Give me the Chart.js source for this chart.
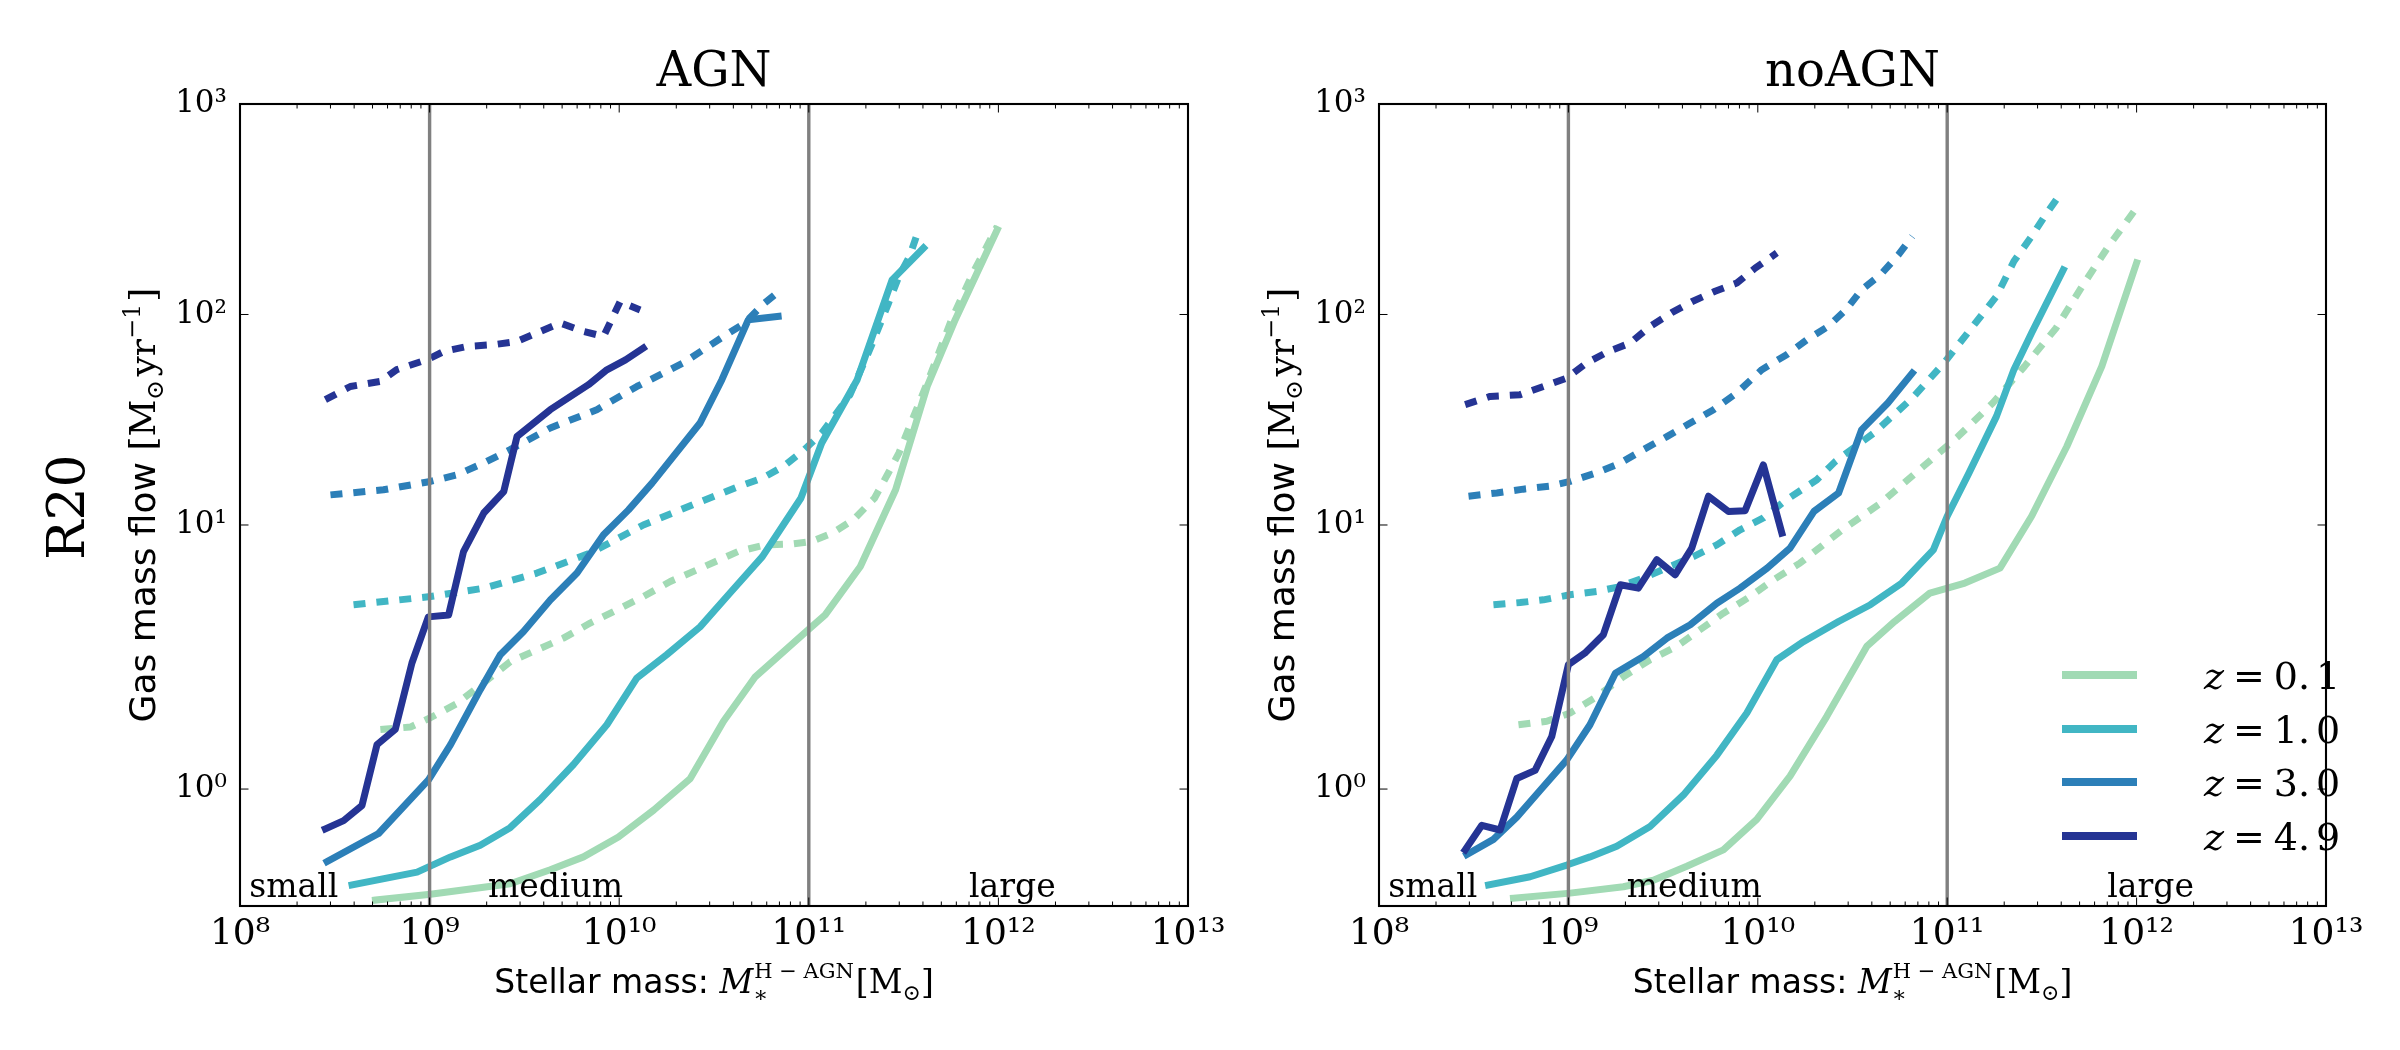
<!DOCTYPE html>
<html>
<head>
<meta charset="utf-8">
<script src="https://cdn.jsdelivr.net/npm/chart.js@4.4.0/dist/chart.umd.min.js"></script>
<style>
html, body { margin: 0; padding: 0; background: #ffffff; }
#wrap { position: relative; width: 2400px; height: 1050px; overflow: hidden; background: #ffffff; }
#cAGN { position: absolute; left: 0; top: 0; width: 1300px; height: 1050px; }
#cNo { position: absolute; left: 1200px; top: 0; width: 1200px; height: 1050px; }
</style>
</head>
<body>
<div id="wrap">
  <canvas id="cAGN" width="1300" height="1050"></canvas>
  <canvas id="cNo" width="1200" height="1050"></canvas>
</div>
<script>
// ---------------- data ----------------
const PANEL_TITLES = ['AGN', 'noAGN'];
const ROW_LABEL = 'R20';
const Z_LABELS = ['0.1', '1.0', '3.0', '4.9'];
const COLORS = ['#a1dab4', '#41b6c4', '#2c7fb8', '#253494'];
const X_TICKS = [1e8, 1e9, 1e10, 1e11, 1e12, 1e13];
const Y_TICKS = [1, 10, 100, 1000];
const VLINE_X = [1e9, 1e11];
const REGION_LABELS = ['small', 'medium', 'large'];
const REGION_X = [1.12e8, 2.03e9, 7.0e11];
const REGION_Y = 0.077;

// AGN panel
const AGN_z01_solid_x = [5.18e8, 1.01e9, 2.66e9, 4.33e9, 6.48e9, 9.91e9, 1.52e10, 2.37e10, 3.55e10, 5.22e10, 9.48e10, 1.22e11, 1.87e11, 2.87e11, 4.21e11, 5.92e11, 9.86e11];
const AGN_z01_solid_y = [0.051, 0.10, 0.19, 0.31, 0.42, 0.59, 0.82, 1.09, 1.58, 1.96, 3.06, 3.74, 6.35, 14.7, 45.5, 94.5, 253];
const AGN_z01_dash_x = [5.50e8, 7.91e8, 1.01e9, 1.39e9, 1.93e9, 2.66e9, 3.68e9, 5.08e9, 7.03e9, 9.73e9, 1.34e10, 1.86e10, 2.57e10, 4.23e10, 5.93e10, 8.0e10, 1.03e11, 1.33e11, 1.72e11, 2.22e11, 2.63e11, 2.99e11, 3.40e11, 4.21e11, 5.66e11, 7.33e11, 9.86e11];
const AGN_z01_dash_y = [1.51, 1.53, 1.61, 1.73, 1.91, 2.24, 2.55, 2.90, 3.42, 3.95, 4.57, 5.39, 6.12, 7.48, 8.05, 8.11, 8.35, 9.15, 10.6, 13.4, 17.7, 22.0, 29.4, 47.2, 94.5, 157, 262];
const AGN_z10_solid_x = [3.90e8, 8.59e8, 1.29e9, 1.85e9, 2.66e9, 3.83e9, 5.74e9, 8.61e9, 1.24e10, 1.78e10, 2.67e10, 3.84e10, 5.69e10, 9.08e10, 1.17e11, 1.80e11, 2.75e11, 4.03e11];
const AGN_z10_solid_y = [0.18, 0.29, 0.42, 0.52, 0.67, 0.91, 1.21, 1.55, 1.95, 2.42, 3.28, 4.75, 7.08, 13.4, 24.5, 49.0, 146, 207];
const AGN_z10_dash_x = [3.97e8, 1.01e9, 1.93e9, 3.68e9, 7.03e9, 1.34e10, 2.57e10, 4.23e10, 5.69e10, 7.35e10, 9.48e10, 1.17e11, 1.65e11, 2.13e11, 2.63e11, 2.99e11, 3.40e11, 3.78e11];
const AGN_z10_dash_y = [4.18, 4.57, 5.01, 5.91, 7.35, 10.0, 12.7, 15.2, 16.7, 19.0, 22.8, 27.3, 41.6, 70.5, 113, 152, 189, 250];
const AGN_z30_solid_x = [2.88e8, 5.38e8, 9.89e8, 1.29e9, 1.85e9, 2.36e9, 3.13e9, 4.33e9, 5.99e9, 8.27e9, 1.12e10, 1.49e10, 2.67e10, 3.48e10, 4.80e10, 6.89e10];
const AGN_z30_solid_y = [0.38, 0.62, 1.08, 1.38, 1.85, 2.42, 3.12, 4.40, 5.91, 8.98, 11.8, 15.8, 30.5, 49.0, 94.5, 97.9];
const AGN_z30_dash_x = [3.0e8, 5.71e8, 1.01e9, 1.39e9, 1.93e9, 2.66e9, 4.33e9, 7.62e9, 1.24e10, 2.18e10, 3.55e10, 4.60e10, 5.69e10, 6.75e10];
const AGN_z30_dash_y = [13.9, 14.7, 16.1, 17.3, 19.7, 22.8, 28.9, 35.3, 45.5, 58.9, 78.7, 91.1, 111, 126];
const AGN_z49_solid_x = [2.82e8, 3.52e8, 4.40e8, 5.28e8, 6.59e8, 8.07e8, 9.85e8, 1.26e9, 1.51e9, 1.93e9, 2.46e9, 2.89e9, 4.33e9, 6.89e9, 8.61e9, 1.08e10, 1.34e10];
const AGN_z49_solid_y = [0.66, 0.73, 0.86, 1.38, 1.51, 2.21, 3.66, 3.74, 7.48, 11.4, 14.4, 26.3, 35.3, 46.4, 54.6, 60.9, 69.3];
const AGN_z49_dash_x = [2.82e8, 3.82e8, 5.50e8, 6.71e8, 9.69e8, 1.19e9, 1.57e9, 2.18e9, 2.89e9, 3.85e9, 4.89e9, 6.49e9, 8.27e9, 1.01e10, 1.29e10];
const AGN_z49_dash_y = [39.4, 45.5, 48.1, 54.7, 61.0, 66.8, 70.5, 71.9, 74.5, 83.1, 91.1, 83.1, 78.7, 115, 105];

// noAGN panel
const NO_z01_solid_x = [5.13e8, 1.02e9, 1.95e9, 2.81e9, 4.22e9, 6.58e9, 9.88e9, 1.48e10, 2.31e10, 3.76e10, 5.28e10, 8.11e10, 1.24e11, 1.90e11, 2.79e11, 4.28e11, 6.55e11, 1.0e12];
const NO_z01_solid_y = [0.066, 0.11, 0.165, 0.22, 0.34, 0.48, 0.74, 1.11, 1.62, 2.65, 3.48, 4.75, 5.30, 6.24, 11.0, 23.6, 56.7, 176];
const NO_z01_dash_x = [5.45e8, 7.69e8, 1.02e9, 1.41e9, 1.95e9, 2.70e9, 3.73e9, 4.95e9, 6.58e9, 9.10e9, 1.21e10, 1.67e10, 2.79e10, 4.46e10, 7.13e10, 1.14e11, 1.74e11, 2.56e11, 3.76e11, 5.29e11, 7.13e11, 1.0e12];
const NO_z01_dash_y = [1.55, 1.58, 1.65, 1.79, 1.96, 2.29, 2.65, 3.18, 3.81, 4.57, 5.49, 6.59, 9.49, 12.7, 18.3, 26.3, 38.0, 56.7, 86.3, 141, 212, 321];
const NO_z10_solid_x = [3.79e8, 6.28e8, 9.81e8, 1.30e9, 1.80e9, 2.70e9, 4.05e9, 6.08e9, 8.75e9, 1.26e10, 1.74e10, 2.67e10, 3.93e10, 5.76e10, 8.45e10, 1.0e11, 1.30e11, 1.82e11, 2.25e11, 2.79e11, 4.10e11];
const NO_z10_solid_y = [0.18, 0.25, 0.35, 0.42, 0.51, 0.68, 0.95, 1.29, 1.65, 2.29, 2.79, 3.48, 4.18, 5.30, 7.62, 11.0, 17.6, 32.8, 54.7, 81.7, 163];
const NO_z10_dash_x = [4.02e8, 5.56e8, 7.38e8, 1.02e9, 1.41e9, 1.88e9, 2.60e9, 3.44e9, 4.57e9, 6.08e9, 8.07e9, 1.07e10, 1.42e10, 2.05e10, 2.56e10, 4.09e10, 6.54e10, 9.62e10, 1.41e11, 1.82e11, 2.25e11, 2.79e11, 3.31e11, 3.93e11];
const NO_z10_dash_y = [4.18, 4.28, 4.41, 4.66, 4.83, 5.10, 5.69, 6.35, 7.08, 8.05, 9.49, 10.8, 13.2, 16.4, 20.0, 27.3, 40.1, 58.9, 91.1, 122, 179, 235, 298, 371];
const NO_z30_solid_x = [2.91e8, 4.02e8, 5.34e8, 7.10e8, 9.81e8, 1.30e9, 1.77e9, 2.49e9, 3.31e9, 4.40e9, 6.08e9, 8.07e9, 1.12e10, 1.48e10, 1.98e10, 2.67e10, 3.53e10, 4.86e10, 6.54e10];
const NO_z30_solid_y = [0.44, 0.57, 0.76, 0.99, 1.25, 1.55, 1.99, 2.37, 2.90, 3.36, 4.25, 5.01, 6.24, 7.77, 11.6, 14.2, 28.3, 38.0, 52.7];
const NO_z30_dash_x = [2.97e8, 4.19e8, 5.78e8, 8.0e8, 1.02e9, 1.41e9, 1.88e9, 2.49e9, 3.31e9, 4.40e9, 5.84e9, 7.75e9, 1.05e10, 1.42e10, 1.82e10, 2.35e10, 2.91e10, 3.53e10, 4.46e10, 5.52e10, 6.54e10];
const NO_z30_dash_y = [13.7, 14.2, 14.8, 15.3, 16.1, 17.7, 19.7, 22.8, 26.3, 30.5, 35.3, 42.4, 54.7, 64.4, 75.9, 87.8, 105, 131, 155, 192, 235];
const NO_z49_solid_x = [2.85e8, 3.49e8, 4.36e8, 5.34e8, 6.67e8, 8.17e8, 1.0e9, 1.22e9, 1.53e9, 1.88e9, 2.34e9, 2.93e9, 3.66e9, 4.48e9, 5.49e9, 7.0e9, 8.57e9, 1.07e10, 1.34e10];
const NO_z49_solid_y = [0.48, 0.69, 0.65, 1.09, 1.16, 1.45, 2.17, 2.46, 3.01, 5.20, 5.01, 6.84, 5.80, 7.77, 13.7, 11.6, 11.7, 19.3, 9.15];
const NO_z49_dash_x = [2.85e8, 3.86e8, 5.56e8, 7.38e8, 9.81e8, 1.25e9, 1.63e9, 2.12e9, 2.70e9, 3.51e9, 4.48e9, 5.95e9, 7.75e9, 9.68e9, 1.26e10];
const NO_z49_dash_y = [37.3, 40.8, 41.6, 45.5, 49.9, 58.9, 66.8, 73.2, 87.8, 102, 115, 129, 141, 166, 196];

const AGN_SERIES = [
  [0, false, AGN_z01_solid_x, AGN_z01_solid_y], [0, true, AGN_z01_dash_x, AGN_z01_dash_y],
  [1, false, AGN_z10_solid_x, AGN_z10_solid_y], [1, true, AGN_z10_dash_x, AGN_z10_dash_y],
  [2, false, AGN_z30_solid_x, AGN_z30_solid_y], [2, true, AGN_z30_dash_x, AGN_z30_dash_y],
  [3, false, AGN_z49_solid_x, AGN_z49_solid_y], [3, true, AGN_z49_dash_x, AGN_z49_dash_y]
];
const NO_SERIES = [
  [0, false, NO_z01_solid_x, NO_z01_solid_y], [0, true, NO_z01_dash_x, NO_z01_dash_y],
  [1, false, NO_z10_solid_x, NO_z10_solid_y], [1, true, NO_z10_dash_x, NO_z10_dash_y],
  [2, false, NO_z30_solid_x, NO_z30_solid_y], [2, true, NO_z30_dash_x, NO_z30_dash_y],
  [3, false, NO_z49_solid_x, NO_z49_solid_y], [3, true, NO_z49_dash_x, NO_z49_dash_y]
];

// ---------------- symlog scale (linthresh 2, linscale 1) ----------------
const LINTHRESH = 2;
const LIN_ADJ = 1 / (1 - 1 / 10);
class SymlogScale extends Chart.LinearScale {
  _tf(v) { return v <= LINTHRESH ? v * LIN_ADJ : LINTHRESH * (LIN_ADJ + Math.log10(v / LINTHRESH)); }
  _itf(t) { return t <= LINTHRESH * LIN_ADJ ? t / LIN_ADJ : LINTHRESH * Math.pow(10, t / LINTHRESH - LIN_ADJ); }
  determineDataLimits() { this.min = this.options.min; this.max = this.options.max; }
  buildTicks() { this.start = this.min; this.end = this.max; return Y_TICKS.map(v => ({ value: v })); }
  configure() { super.configure(); this._t0 = this._tf(this.min); this._t1 = this._tf(this.max); }
  getPixelForValue(v) { return this.getPixelForDecimal((this._tf(v) - this._t0) / (this._t1 - this._t0)); }
  getValueForPixel(p) { return this._itf(this._t0 + this.getDecimalForPixel(p) * (this._t1 - this._t0)); }
}
SymlogScale.id = 'symlog';
SymlogScale.defaults = {};
Chart.register(SymlogScale);

// ---------------- helpers ----------------
const SUP = { '0': '⁰', '1': '¹', '2': '²', '3': '³', '4': '⁴', '5': '⁵', '6': '⁶', '7': '⁷', '8': '⁸', '9': '⁹', '-': '⁻' };
function powLabel(v) {
  const e = String(Math.round(Math.log10(v)));
  return '10' + e.split('').map(c => SUP[c]).join('');
}
const SERIF = '"DejaVu Serif", "Liberation Serif", serif';
const SANS = '"DejaVu Sans", "Liberation Sans", sans-serif';

function richWidth(ctx, segs) {
  let w = 0;
  segs.forEach(s => { ctx.font = s.font; if (!s.noAdv) w += ctx.measureText(s.t).width + (s.dx || 0); });
  return w;
}
function drawRich(ctx, segs, x, y, align) {
  let cx = align === 'center' ? x - richWidth(ctx, segs) / 2 : x;
  ctx.textAlign = 'left';
  ctx.textBaseline = 'alphabetic';
  segs.forEach(s => {
    ctx.font = s.font;
    ctx.fillText(s.t, cx + (s.dx || 0), y + (s.dy || 0));
    if (!s.noAdv) cx += ctx.measureText(s.t).width + (s.dx || 0);
  });
}

const Y_TITLE = [
  { t: 'Gas mass flow ', font: '36px ' + SANS },
  { t: '[M', font: '36px ' + SERIF },
  { t: '⊙', font: '24px ' + SERIF, dy: 8 },
  { t: 'yr', font: '36px ' + SERIF, dx: 3 },
  { t: '−1', font: '24px ' + SERIF, dy: -15 },
  { t: ']', font: '36px ' + SERIF, dx: 2 }
];
const X_TITLE = [
  { t: 'Stellar mass: ', font: '33px ' + SANS },
  { t: 'M', font: 'italic 33px ' + SERIF },
  { t: '∗', font: '22px ' + SERIF, dy: 9, noAdv: true },
  { t: 'H − AGN', font: '21px ' + SERIF, dy: -15, dx: 1 },
  { t: '[M', font: '33px ' + SERIF, dx: 2 },
  { t: '⊙', font: '22px ' + SERIF, dy: 7 },
  { t: ']', font: '33px ' + SERIF }
];

function makeDatasets(series) {
  const ds = [];
  VLINE_X.forEach(v => {
    ds.push({
      label: 'boundary ' + v,
      data: [{ x: v, y: 0 }, { x: v, y: 1000 }],
      borderColor: '#808080', borderWidth: 3.4, pointRadius: 0, fill: false, order: 0
    });
  });
  series.forEach((s, i) => {
    const [zi, dashed, xs, ys] = s;
    ds.push({
      label: 'z = ' + Z_LABELS[zi] + (dashed ? ' (dashed)' : ''),
      data: xs.map((x, k) => ({ x: x, y: ys[k] })),
      borderColor: COLORS[zi],
      borderWidth: 7,
      borderDash: dashed ? [12, 11] : [],
      borderCapStyle: dashed ? 'butt' : 'square',
      borderJoinStyle: 'round',
      pointRadius: 0, pointHoverRadius: 0, fill: false, tension: 0,
      order: 100 - i
    });
  });
  return ds;
}

function makeDecor(p) {
  return {
    id: 'decor' + p.key,
    afterDatasetsDraw(chart) {
      const ctx = chart.ctx, a = chart.chartArea, xs = chart.scales.x, ys = chart.scales.y;
      ctx.save();
      ctx.strokeStyle = '#000';
      ctx.lineWidth = 1;
      const seg = (x1, y1, x2, y2) => { ctx.beginPath(); ctx.moveTo(x1, y1); ctx.lineTo(x2, y2); ctx.stroke(); };
      X_TICKS.forEach(v => {
        const px = xs.getPixelForValue(v);
        seg(px, a.bottom, px, a.bottom - 8.5); seg(px, a.top, px, a.top + 8.5);
      });
      for (let e = 8; e < 13; e++) {
        for (let k = 2; k < 10; k++) {
          const px = xs.getPixelForValue(k * Math.pow(10, e));
          seg(px, a.bottom, px, a.bottom - 4.5); seg(px, a.top, px, a.top + 4.5);
        }
      }
      Y_TICKS.forEach(v => {
        const py = ys.getPixelForValue(v);
        seg(a.left, py, a.left + 8.5, py); seg(a.right, py, a.right - 8.5, py);
      });
      ctx.lineWidth = 2.1;
      ctx.strokeRect(a.left, a.top, a.right - a.left, a.bottom - a.top);

      ctx.fillStyle = '#000';
      // region labels
      ctx.font = '33px ' + SERIF;
      ctx.textAlign = 'left';
      ctx.textBaseline = 'alphabetic';
      REGION_LABELS.forEach((t, i) => ctx.fillText(t, xs.getPixelForValue(REGION_X[i]), ys.getPixelForValue(REGION_Y)));
      // panel title
      ctx.font = '48px ' + SERIF;
      ctx.textAlign = 'center';
      ctx.fillText(p.title, (a.left + a.right) / 2, 86);
      // x title
      drawRich(ctx, X_TITLE, (a.left + a.right) / 2, 993, 'center');
      // y title
      ctx.save();
      ctx.translate(a.left - 85, (a.top + a.bottom) / 2);
      ctx.rotate(-Math.PI / 2);
      drawRich(ctx, Y_TITLE, 0, 0, 'center');
      ctx.restore();
      // row label
      if (p.rowLabel) {
        ctx.save();
        ctx.translate(84, 507);
        ctx.rotate(-Math.PI / 2);
        ctx.font = '52px ' + SERIF;
        ctx.textAlign = 'center';
        ctx.fillText(ROW_LABEL, 0, 0);
        ctx.restore();
      }
      // legend
      if (p.legend) {
        const rows = [675, 729, 782, 836];
        Z_LABELS.forEach((z, i) => {
          ctx.strokeStyle = COLORS[i];
          ctx.lineWidth = 8;
          ctx.lineCap = 'butt';
          seg(a.right - 264, rows[i], a.right - 189, rows[i]);
          const parts = z.split('.');
          drawRich(ctx, [
            { t: 'z', font: 'italic 38px ' + SERIF },
            { t: '=', font: '38px ' + SERIF, dx: 9 },
            { t: parts[0] + '.', font: '38px ' + SERIF, dx: 9 },
            { t: parts[1], font: '38px ' + SERIF, dx: 6 }
          ], a.right - 122, rows[i] + 14, 'left');
        });
      }
      ctx.restore();
    }
  };
}

function makeChart(canvasId, series, p) {
  return new Chart(document.getElementById(canvasId), {
    type: 'line',
    data: { datasets: makeDatasets(series) },
    options: {
      responsive: false,
      animation: false,
      devicePixelRatio: 1,
      events: [],
      layout: { padding: { left: 0, top: 104, right: p.padRight, bottom: 0 } },
      plugins: { legend: { display: false }, tooltip: { enabled: false }, title: { display: false } },
      scales: {
        x: {
          type: 'logarithmic', min: 1e8, max: 1e13,
          grid: { display: false, drawTicks: false },
          border: { display: false },
          afterBuildTicks: s => { s.ticks = X_TICKS.map(v => ({ value: v, major: true })); },
          afterFit: s => { s.height = 144; },
          ticks: {
            autoSkip: false, maxRotation: 0, minRotation: 0, padding: 7,
            color: '#000', font: { family: SERIF, size: 36 },
            callback: v => powLabel(v)
          }
        },
        y: {
          type: 'symlog', min: 0, max: 1000,
          grid: { display: false, drawTicks: false },
          border: { display: false },
          afterFit: s => { s.width = p.yWidth; },
          ticks: {
            padding: 13, color: '#000', font: { family: SERIF, size: 31 },
            callback: v => powLabel(v)
          }
        }
      }
    },
    plugins: [makeDecor(p)]
  });
}

makeChart('cAGN', AGN_SERIES, { key: 'A', title: PANEL_TITLES[0], padRight: 112, yWidth: 240, rowLabel: true, legend: false });
makeChart('cNo', NO_SERIES, { key: 'B', title: PANEL_TITLES[1], padRight: 74, yWidth: 179, rowLabel: false, legend: true });
</script>
</body>
</html>
